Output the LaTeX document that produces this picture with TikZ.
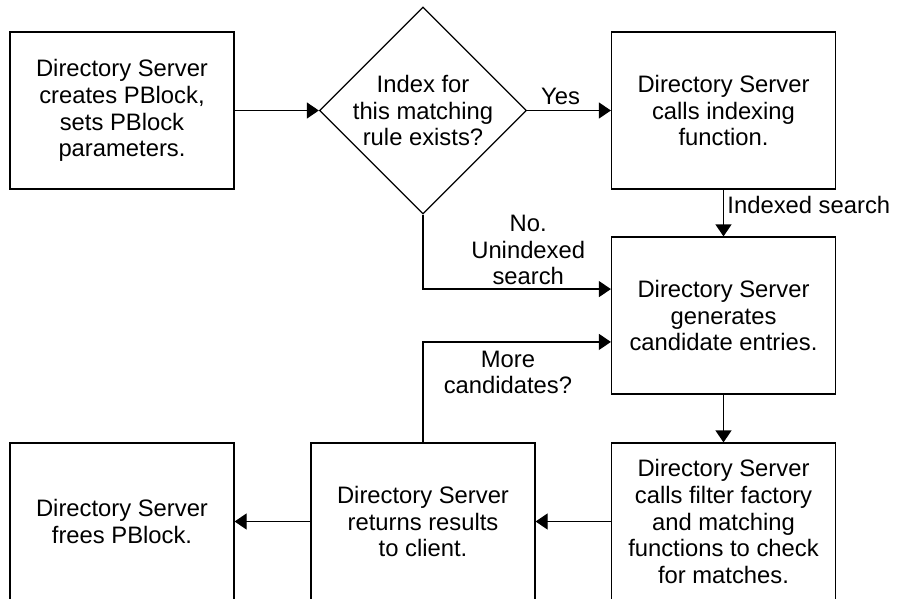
\documentclass[tikz,border=0pt]{standalone}
\usepackage{fontspec}
\setmainfont{Liberation Sans}
\usetikzlibrary{shapes.geometric, arrows.meta, calc}

\begin{document}
\begin{tikzpicture}[x=1pt, y=-1pt, line width=1.2pt,
    every node/.style={font=\fontsize{23.8pt}{26.7pt}\selectfont, align=center},
    stepbox/.style={draw, rectangle, minimum width=224pt, minimum height=157pt, inner sep=0pt},
    decision/.style={draw, diamond, aspect=1, minimum size=206pt, inner sep=-1pt},
    flow/.style={->, >={Triangle[length=12pt, width=16pt]}}]

            \def \colL {122}
            \def \colM {423}
            \def \colR {723.5}
            \def \rowT {110.5}
            \def \rowM {315.5}
            \def \rowB {521.5} % bottom row runs past the page edge

            \useasboundingbox (0,0) rectangle (898,598);
            \clip (0,0) rectangle (898,598);

            \node[stepbox] (create) at (\colL,\rowT) {Directory Server\\creates PBlock,\\sets PBlock\\parameters.};
            \node[decision] (decide) at (\colM,\rowT) {Index for\\this matching\\rule exists?};
            \node[stepbox] (index) at (\colR,\rowT) {Directory Server\\calls indexing\\function.};
            \node[stepbox] (generate) at (\colR,\rowM) {Directory Server\\generates\\candidate entries.};
            \node[stepbox] (filter) at (\colR,\rowB) {Directory Server\\calls filter factory\\and matching\\functions to check\\for matches.};
            \node[stepbox] (result) at (\colM,\rowB) {Directory Server\\returns results\\to client.};
            \node[stepbox] (free) at (\colL,\rowB) {Directory Server\\frees PBlock.};

            \coordinate (genin1) at ($(generate.north west)!0.333!(generate.south west)$);
            \coordinate (genin2) at ($(generate.north west)!0.667!(generate.south west)$);

            \draw[flow] (create) -- (decide);
            \draw[flow] (decide) -- node[above, pos=0.4, yshift=2pt] {Yes} (index);
            \draw[flow] (index) -- node[anchor=base west] {Indexed search} (generate);
            \draw[flow] (decide.south) |- node[above, pos=0.78] {No.\\Unindexed\\search} (genin1);
            \draw[flow] (result.north) |- node[below, pos=0.726, yshift=-5pt] {More\\candidates?} (genin2);
            \draw[flow] (generate) -- (filter);
            \draw[flow] (filter) -- (result);
            \draw[flow] (result) -- (free);
\end{tikzpicture}
\end{document}
